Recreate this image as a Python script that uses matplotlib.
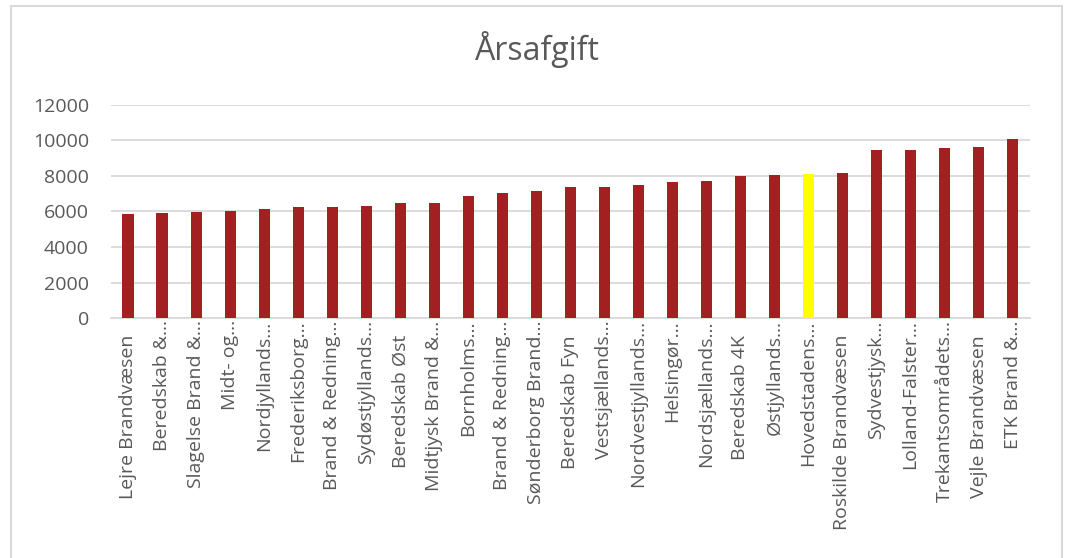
import matplotlib
matplotlib.use("Agg")
import matplotlib.pyplot as plt
from matplotlib.patches import Rectangle
from matplotlib.transforms import ScaledTranslation

# Årsafgift pr. beredskab
navne = ["Lejre Brandvæsen", "Beredskab &…", "Slagelse Brand &…", "Midt- og…",
         "Nordjyllands…", "Frederiksborg…", "Brand & Redning…", "Sydøstjyllands…",
         "Beredskab Øst", "Midtjysk Brand &…", "Bornholms…", "Brand & Redning…",
         "Sønderborg Brand…", "Beredskab Fyn", "Vestsjællands…", "Nordvestjyllands…",
         "Helsingør…", "Nordsjællands…", "Beredskab 4K", "Østjyllands…",
         "Hovedstadens…", "Roskilde Brandvæsen", "Sydvestjysk…", "Lolland-Falster…",
         "Trekantsområdets…", "Vejle Brandvæsen", "ETK Brand &…"]
afgift = [5860, 5915, 5970, 6030, 6125, 6235, 6240, 6310, 6460, 6500, 6870, 7040,
          7130, 7360, 7375, 7490, 7640, 7715, 7995, 8035, 8105, 8145, 9440, 9440,
          9585, 9600, 10090]
fremhaev = "Hovedstadens…"

tekst = "#595959"
gitter = "#D9D9D9"
farver = ["#FFFF00" if n == fremhaev else "#A21F22" for n in navne]

plt.rcParams['font.family'] = ['Open Sans', 'DejaVu Sans']

fig = plt.figure(figsize=(10.68, 5.58), dpi=100)
ax = fig.add_axes([0.104, 0.4296, 0.860, 0.3828])

x = list(range(len(navne)))
ax.bar(x, afgift, width=0.33, color=farver, zorder=3)

ax.set_xlim(-0.5, len(navne) - 0.5)
ax.set_ylim(0, 12000)
ax.set_yticks(range(0, 12001, 2000))
ax.grid(axis='y', color=gitter, linewidth=1.3, zorder=0)
for side in ['top', 'right', 'left']:
    ax.spines[side].set_visible(False)
ax.spines['bottom'].set_color(gitter)
ax.spines['bottom'].set_linewidth(1.3)

ax.set_xticks(x)
ax.set_xticklabels(navne, rotation=90, va='top', ha='center')
ax.tick_params(axis='x', length=0, pad=12, labelsize=14, colors=tekst)
ax.tick_params(axis='y', length=0, pad=16, labelsize=14, colors=tekst)

# afkortede navne: "…" stikker op over de andre, som i Excel
for lbl in ax.get_xticklabels():
    if lbl.get_text().endswith("…"):
        lbl.set_transform(lbl.get_transform() + ScaledTranslation(0, 10.5 / 72, fig.dpi_scale_trans))

fig.text(0.5028, 0.912, "Årsafgift", ha='center', va='center', fontsize=23, color=tekst)

# ramme om diagrammet
fig.patches.append(Rectangle((11 / 1068, -0.02), 1051 / 1068, 1 - 6 / 558 + 0.02,
                             transform=fig.transFigure, fill=False,
                             edgecolor=gitter, linewidth=1.5))

fig.savefig("out.png", dpi=100, facecolor="white")
